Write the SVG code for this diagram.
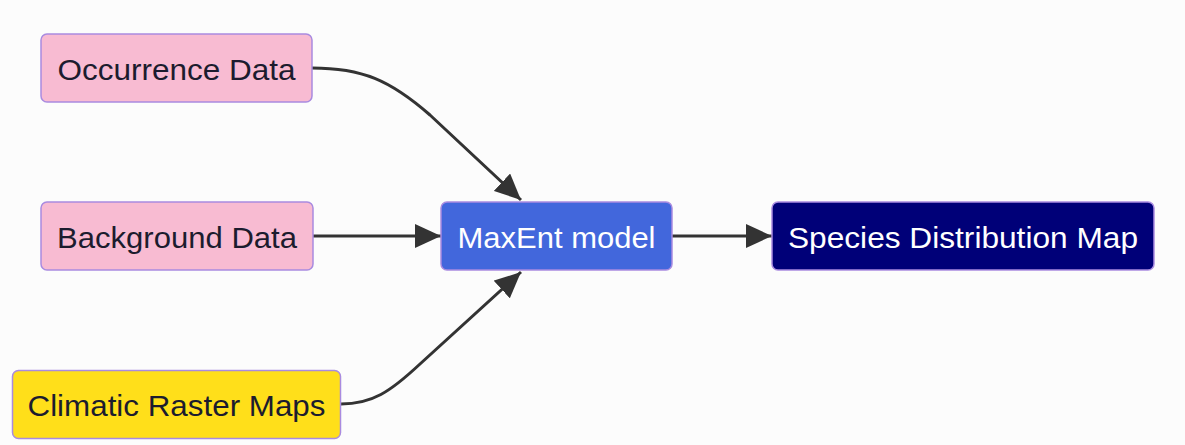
<svg xmlns="http://www.w3.org/2000/svg" width="1185" height="445" viewBox="0 0 1185 445">
<style>
.bg{fill:#fcfcfc}
.node rect{stroke:#a98be0;stroke-width:1.5}
.pink rect{fill:#f8bbd2}
.yellow rect{fill:#ffdf1a}
.blue rect{fill:#4267dc}
.navy rect{fill:#000078}
.node text{font-family:"Liberation Sans",Arial,sans-serif;font-size:30px;text-anchor:middle}
.dark text{fill:#1c1c2e}
.light text{fill:#ffffff}
.edge{fill:none;stroke:#333333;stroke-width:3}
</style>
<defs>
<marker id="arrow" markerUnits="userSpaceOnUse" markerWidth="26" markerHeight="24" viewBox="0 0 24 22" refX="24" refY="11" orient="auto">
<path d="M0,0 L24,11 L0,22 z" fill="#333333"/>
</marker>
</defs>
<rect class="bg" x="0" y="0" width="1185" height="445"/>
<g id="edges">
<path class="edge" d="M312,68 C362,68 390,80 430,115 L521,200" marker-end="url(#arrow)"/>
<path class="edge" d="M313,236 L441,236" marker-end="url(#arrow)"/>
<path class="edge" d="M341,404 C372,404 390,392 420,364 L521,272" marker-end="url(#arrow)"/>
<path class="edge" d="M672,236 L772,236" marker-end="url(#arrow)"/>
</g>
<g id="occurrence" class="node pink dark">
<rect x="41" y="34" width="271" height="68" rx="6"/>
<text x="176.5" y="79.5" textLength="238" lengthAdjust="spacingAndGlyphs">Occurrence Data</text>
</g>
<g id="background" class="node pink dark">
<rect x="41" y="202" width="272" height="68" rx="6"/>
<text x="177" y="247.5" textLength="240" lengthAdjust="spacingAndGlyphs">Background Data</text>
</g>
<g id="climatic" class="node yellow dark">
<rect x="12.5" y="370.5" width="328" height="68" rx="6"/>
<text x="176.5" y="415.5" textLength="298" lengthAdjust="spacingAndGlyphs">Climatic Raster Maps</text>
</g>
<g id="maxent" class="node blue light">
<rect x="441" y="202" width="231" height="68" rx="6"/>
<text x="556.5" y="247.5" textLength="198" lengthAdjust="spacingAndGlyphs">MaxEnt model</text>
</g>
<g id="species" class="node navy light">
<rect x="772" y="202" width="382" height="68" rx="6"/>
<text x="963" y="247.5" textLength="350" lengthAdjust="spacingAndGlyphs">Species Distribution Map</text>
</g>
</svg>
